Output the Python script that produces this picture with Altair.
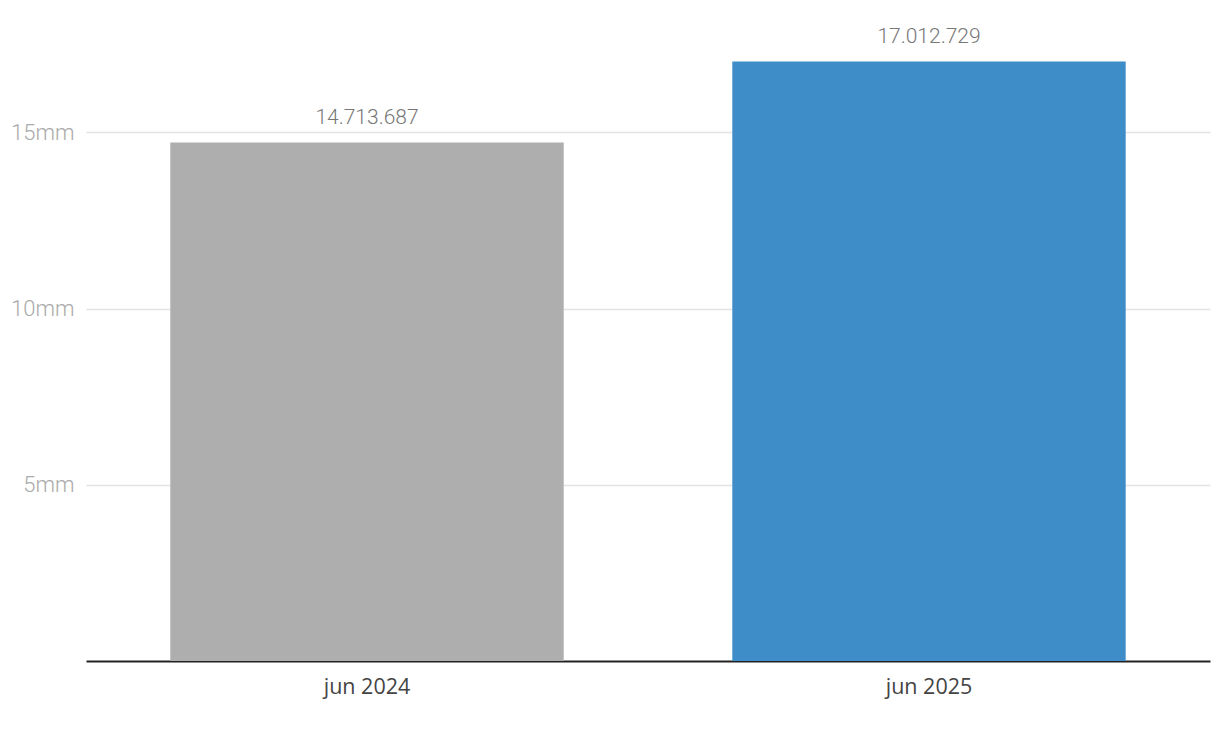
import altair as alt
import pandas as pd

categories = ["jun 2024", "jun 2025"]
values = [14713687, 17012729]
labels = ["14.713.687", "17.012.729"]
colors = ["#aeaeae", "#3f8dc8"]

df = pd.DataFrame({"cat": categories, "val": values, "lbl": labels, "col": colors})

x = alt.X("cat:N", sort=categories, title=None,
          scale=alt.Scale(paddingInner=0.3, paddingOuter=0.15),
          axis=alt.Axis(labelAngle=0, labelFont="Open Sans", labelFontSize=21.5,
                        labelFontWeight=400,
                        labelColor="#444444", labelPadding=15, ticks=False,
                        domain=True, domainColor="#222222", domainWidth=2,
                        grid=False))
y = alt.Y("val:Q", title=None,
          scale=alt.Scale(domain=[0, 18500000], nice=False),
          axis=alt.Axis(values=[5000000, 10000000, 15000000],
                        labelExpr="datum.value/1000000 + 'mm'",
                        labelFont="Roboto", labelFontSize=22, labelFontWeight=300,
                        labelColor="#aaaaaa",
                        labelPadding=12, ticks=False, domain=False,
                        grid=True, gridColor="#e3e3e3", gridWidth=1.5))

bars = alt.Chart(df).mark_bar().encode(
    x=x, y=y, color=alt.Color("col:N", scale=None)
)
text = alt.Chart(df).mark_text(baseline="bottom", dy=-14, font="Roboto",
                               fontSize=21, fontWeight=300, color="#777777").encode(
    x=alt.X("cat:N", sort=categories), y="val:Q", text="lbl:N"
)

chart = (bars + text).properties(
    width=1124, height=652,
    autosize=alt.AutoSizeParams(type="none"),
    padding={"left": 78, "top": 1, "right": 2, "bottom": 60},
).configure_view(stroke=None)

chart.save("out.html", embed_options={"renderer": "svg", "actions": False})
